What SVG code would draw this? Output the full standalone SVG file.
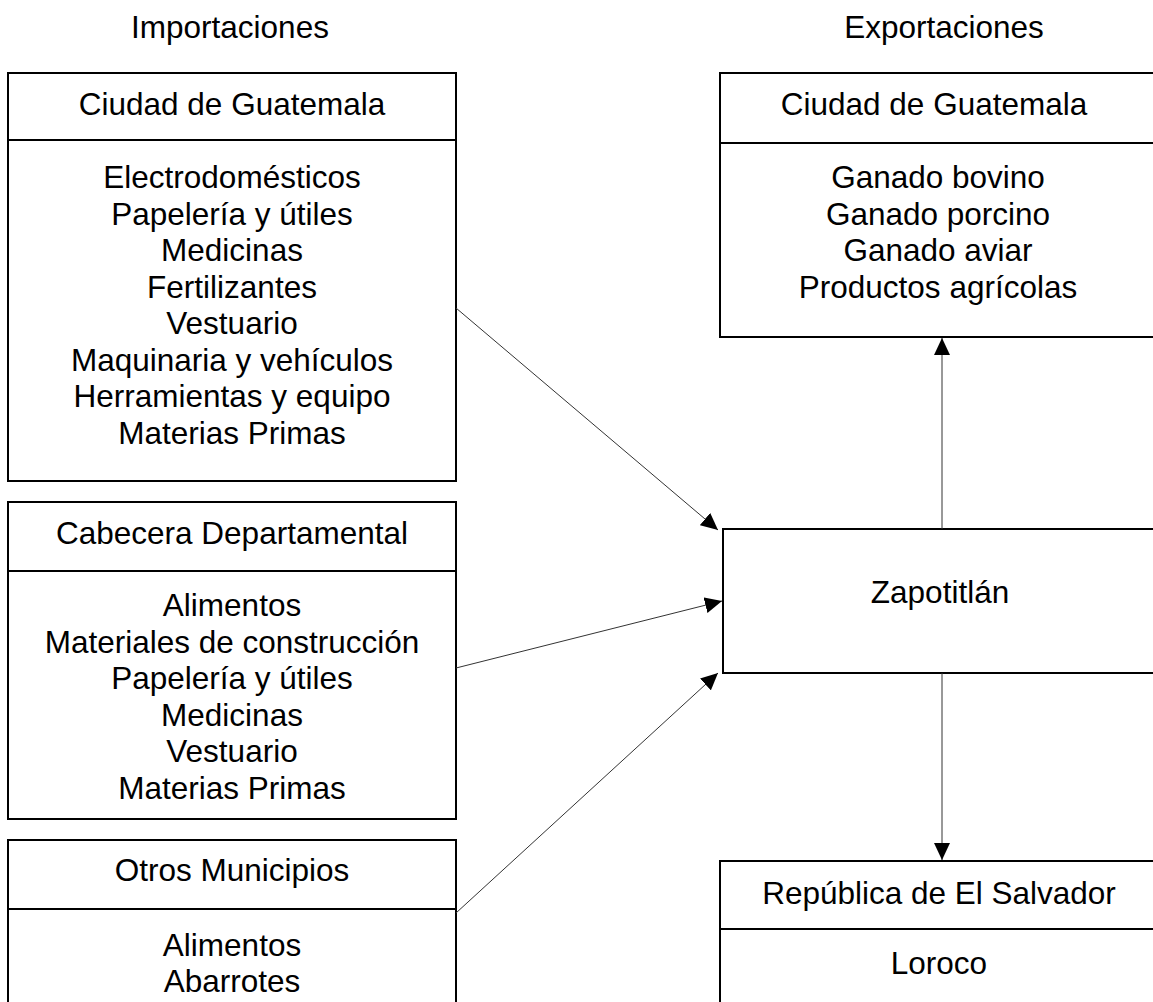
<svg xmlns="http://www.w3.org/2000/svg" width="1153" height="1002" viewBox="0 0 1153 1002">
<style>
text{font-family:"Liberation Sans",Arial,sans-serif;font-size:31.5px;fill:#000;text-anchor:middle}
.box{fill:#fff;stroke:#000;stroke-width:2}
.div{stroke:#000;stroke-width:2}
.con{stroke:#333;stroke-width:1;fill:none;marker-end:url(#ah)}
</style>
<defs>
<marker id="ah" markerUnits="userSpaceOnUse" markerWidth="17" markerHeight="16" refX="17" refY="8" orient="auto">
<path d="M0,0 L17,8 L0,16 z" fill="#000"/>
</marker>
</defs>
<rect width="1153" height="1002" fill="#fff"/>
<g id="titles">
<text x="230" y="38">Importaciones</text>
<text x="944" y="38">Exportaciones</text>
</g>
<g id="imp-ciudad">
<rect class="box" x="8" y="73" width="448" height="408"/>
<line class="div" x1="8" y1="140" x2="456" y2="140"/>
<text x="232" y="115">Ciudad de Guatemala</text>
<text x="232" y="188">Electrodomésticos</text>
<text x="232" y="224.5">Papelería y útiles</text>
<text x="232" y="261">Medicinas</text>
<text x="232" y="297.5">Fertilizantes</text>
<text x="232" y="334">Vestuario</text>
<text x="232" y="370.5">Maquinaria y vehículos</text>
<text x="232" y="407">Herramientas y equipo</text>
<text x="232" y="443.5">Materias Primas</text>
</g>
<g id="imp-cabecera">
<rect class="box" x="8" y="502" width="448" height="317"/>
<line class="div" x1="8" y1="571" x2="456" y2="571"/>
<text x="232" y="544">Cabecera Departamental</text>
<text x="232" y="616">Alimentos</text>
<text x="232" y="652.5">Materiales de construcción</text>
<text x="232" y="689">Papelería y útiles</text>
<text x="232" y="725.5">Medicinas</text>
<text x="232" y="762">Vestuario</text>
<text x="232" y="798.5">Materias Primas</text>
</g>
<g id="imp-otros">
<rect class="box" x="8" y="840" width="448" height="180"/>
<line class="div" x1="8" y1="909" x2="456" y2="909"/>
<text x="232" y="881">Otros Municipios</text>
<text x="232" y="956">Alimentos</text>
<text x="232" y="992">Abarrotes</text>
</g>
<g id="exp-ciudad">
<rect class="box" x="720" y="73" width="438" height="264"/>
<line class="div" x1="720" y1="143" x2="1158" y2="143"/>
<text x="934" y="115">Ciudad de Guatemala</text>
<text x="938" y="188">Ganado bovino</text>
<text x="938" y="224.5">Ganado porcino</text>
<text x="938" y="261">Ganado aviar</text>
<text x="938" y="297.5">Productos agrícolas</text>
</g>
<g id="zapotitlan">
<rect class="box" x="723" y="529" width="435" height="144"/>
<text x="940" y="603">Zapotitlán</text>
</g>
<g id="exp-salvador">
<rect class="box" x="720" y="861" width="438" height="160"/>
<line class="div" x1="720" y1="929" x2="1158" y2="929"/>
<text x="939" y="904">República de El Salvador</text>
<text x="939" y="974">Loroco</text>
</g>
<g id="connectors">
<line class="con" x1="456" y1="308" x2="718" y2="530"/>
<line class="con" x1="456" y1="668" x2="722" y2="601"/>
<line class="con" x1="456" y1="913" x2="718" y2="673"/>
<line class="con" x1="942" y1="529" x2="942" y2="338"/>
<line class="con" x1="942" y1="673" x2="942" y2="860"/>
</g>
</svg>
